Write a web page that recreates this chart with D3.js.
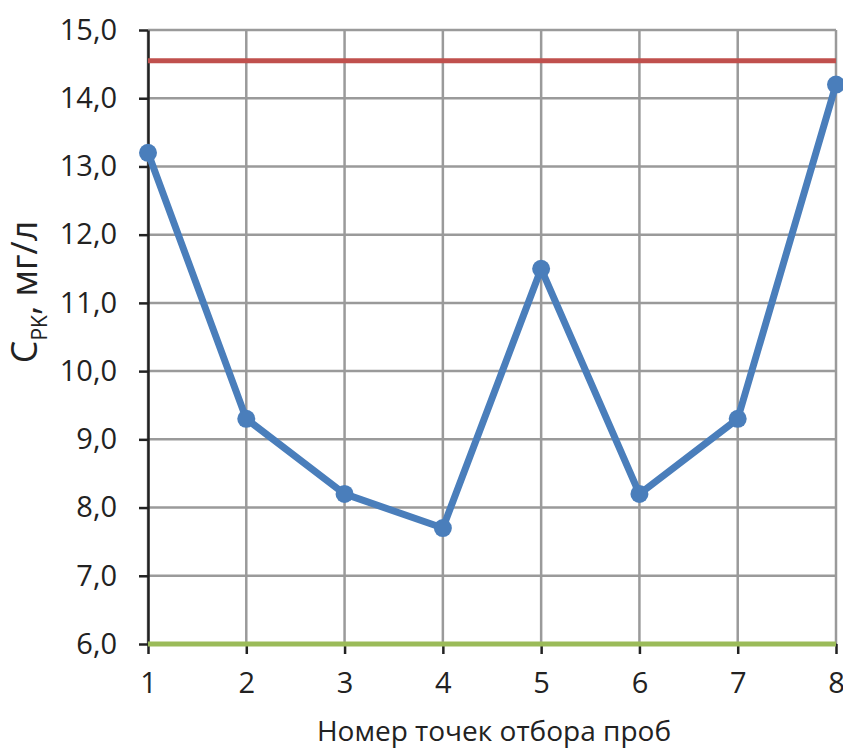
<!DOCTYPE html>
<html><head><meta charset="utf-8">
<script src="https://cdn.jsdelivr.net/npm/d3@7"></script>
<style>body{margin:0;background:#fff}svg{display:block}text{font-family:"Open Sans",sans-serif;fill:#222}</style>
</head><body>
<script>
const points = [1,2,3,4,5,6,7,8];
const values = [13.2,9.3,8.2,7.7,11.5,8.2,9.3,14.2];
const upperLimit = 14.55;
const lowerLimit = 6.0;
const yTicks = [6,7,8,9,10,11,12,13,14,15];
const xTitle = "Номер точек отбора проб";

const W=843,H=750;
const m={l:148,r:7,t:30,b:106};
const svg=d3.select("body").append("svg").attr("width",W).attr("height",H);
const x=d3.scaleLinear().domain([1,8]).range([m.l,W-m.r]);
const y=d3.scaleLinear().domain([6,15]).range([H-m.b,m.t]);
const fmt=d=>d.toFixed(1).replace(".",",");

// grid
svg.append("g").selectAll("line").data(yTicks).join("line")
 .attr("x1",x(1)).attr("x2",x(8)).attr("y1",d=>y(d)).attr("y2",d=>y(d))
 .attr("stroke","#9a9a9a").attr("stroke-width",2.5);
svg.append("g").selectAll("line").data(points).join("line")
 .attr("x1",d=>x(d)).attr("x2",d=>x(d)).attr("y1",y(6)).attr("y2",y(15))
 .attr("stroke","#9a9a9a").attr("stroke-width",2.5);

// axes
const ya=svg.append("g").attr("transform",`translate(${m.l},0)`)
 .call(d3.axisLeft(y).tickValues(yTicks).tickFormat(fmt).tickSize(9).tickPadding(22).tickSizeOuter(0));
ya.select(".domain").attr("stroke","#222").attr("stroke-width",2.5);
ya.selectAll(".tick line").attr("stroke","#222").attr("stroke-width",2.5);
ya.selectAll("text").style("font-size","29px").attr("fill","#222");

const xa=svg.append("g").attr("transform",`translate(0,${y(6)})`)
 .call(d3.axisBottom(x).tickValues(points).tickFormat(d3.format("d")).tickSize(10).tickPadding(18).tickSizeOuter(0));
xa.select(".domain").attr("stroke","#222").attr("stroke-width",2.5);
xa.selectAll(".tick line").attr("stroke","#222").attr("stroke-width",2.5);
xa.selectAll("text").style("font-size","29px").attr("fill","#222");

// limit lines
svg.append("line").attr("x1",x(1)).attr("x2",x(8)).attr("y1",y(upperLimit)).attr("y2",y(upperLimit))
 .attr("stroke","#c0504d").attr("stroke-width",5);
svg.append("line").attr("x1",x(1)).attr("x2",x(8)).attr("y1",y(lowerLimit)).attr("y2",y(lowerLimit))
 .attr("stroke","#9bbb59").attr("stroke-width",5);

// series
const data=points.map((p,i)=>({p,v:values[i]}));
svg.append("path").datum(data)
 .attr("d",d3.line().x(d=>x(d.p)).y(d=>y(d.v)))
 .attr("fill","none").attr("stroke","#4a7ebb").attr("stroke-width",7).attr("stroke-linejoin","round");
svg.append("g").selectAll("circle").data(data).join("circle")
 .attr("cx",d=>x(d.p)).attr("cy",d=>y(d.v)).attr("r",9).attr("fill","#4a7ebb");

// titles
svg.append("text").attr("x",(x(1)+x(8))/2+2).attr("y",741).attr("text-anchor","middle")
 .style("font-size","28px").text(xTitle);
const yt=svg.append("text").attr("transform",`translate(37,${292}) rotate(-90)`).attr("text-anchor","middle")
 .style("font-size","36px");
yt.append("tspan").text("C");
yt.append("tspan").attr("dy",10).style("font-size","21px").text("PK");
yt.append("tspan").attr("dy",-10).text(", мг/л");
</script>
</body></html>
